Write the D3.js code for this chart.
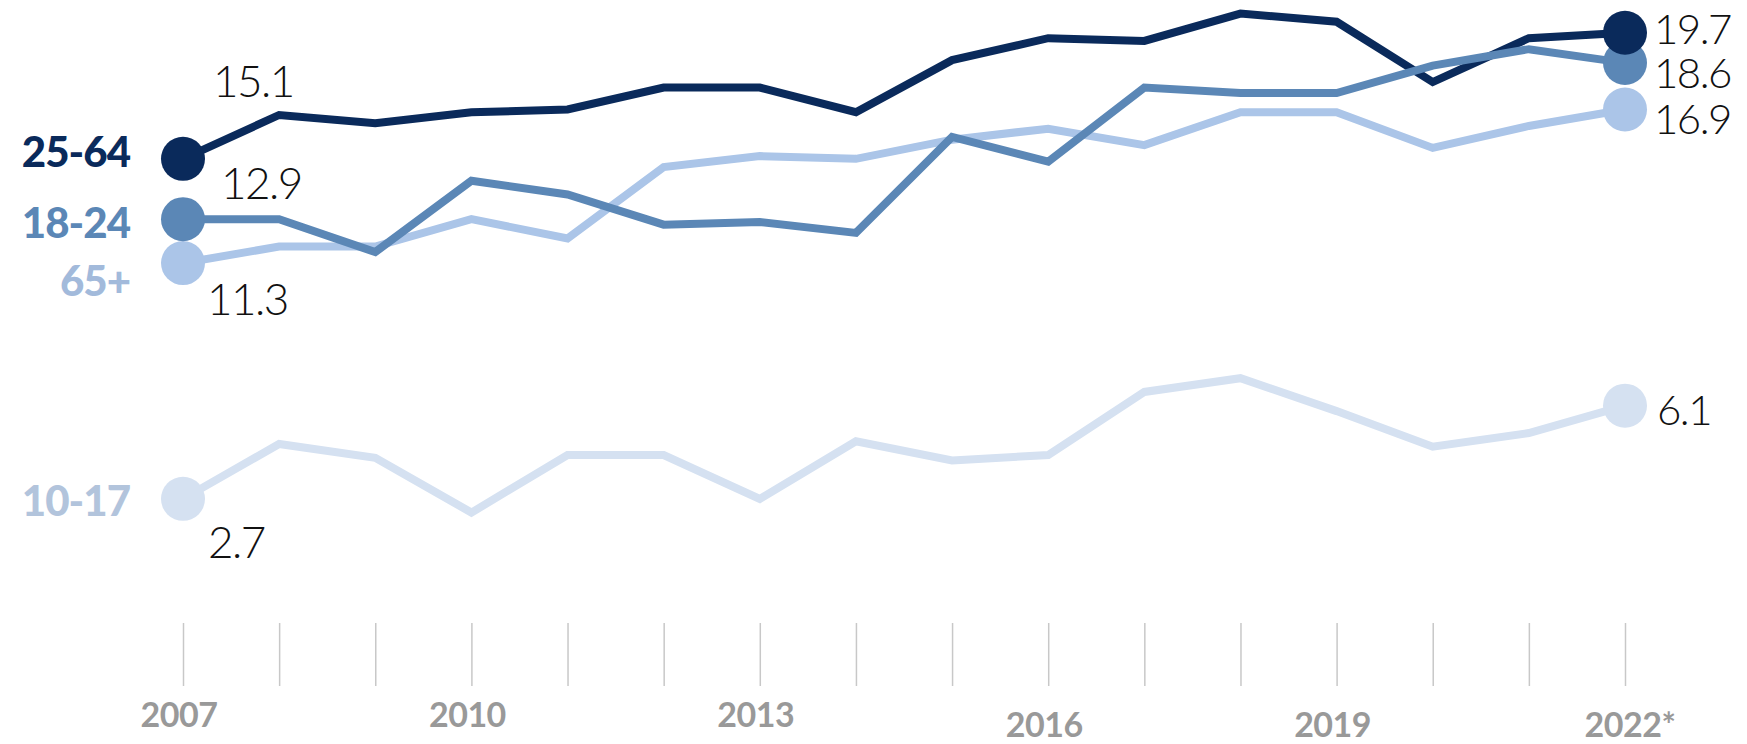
<!DOCTYPE html>
<html>
<head>
<meta charset="utf-8">
<script src="https://cdn.jsdelivr.net/npm/d3@7"></script>
<style>
  html, body { margin: 0; padding: 0; background: #ffffff; }
  svg { display: block; }
</style>
</head>
<body>
<svg id="chart" width="1747" height="744"></svg>
<script>
// ---- data ----
const years = [2007, 2008, 2009, 2010, 2011, 2012, 2013, 2014, 2015, 2016, 2017, 2018, 2019, 2020, 2021, 2022];
const tickYears = [2007, 2010, 2013, 2016, 2019, 2022];
const tickLabels = ["2007", "2010", "2013", "2016", "2019", "2022*"];
const seriesNames = ["10-17", "65+", "25-64", "18-24"];
const values_10_17 = [2.7, 4.7, 4.2, 2.2, 4.3, 4.3, 2.7, 4.8, 4.1, 4.3, 6.6, 7.1, 5.9, 4.6, 5.1, 6.1];
const values_65 = [11.3, 11.9, 11.9, 12.9, 12.2, 14.8, 15.2, 15.1, 15.8, 16.2, 15.6, 16.8, 16.8, 15.5, 16.3, 16.9];
const values_25_64 = [15.1, 16.7, 16.4, 16.8, 16.9, 17.7, 17.7, 16.8, 18.7, 19.5, 19.4, 20.4, 20.1, 17.9, 19.5, 19.7];
const values_18_24 = [12.9, 12.9, 11.7, 14.3, 13.8, 12.7, 12.8, 12.4, 15.9, 15.0, 17.7, 17.5, 17.5, 18.5, 19.1, 18.6];

// ---- styles / layout ----
const lineColors = { "10-17": "#d5e1f1", "65+": "#abc5e8", "25-64": "#0a2a5b", "18-24": "#5b87b6" };
const labelColors = { "10-17": "#b2c4dc", "65+": "#a2badb", "25-64": "#0a2a5b", "18-24": "#5b87b6" };
const seriesValues = { "10-17": values_10_17, "65+": values_65, "25-64": values_25_64, "18-24": values_18_24 };

const svg = d3.select("#chart");
svg.append("rect").attr("width", 1747).attr("height", 744).attr("fill", "#ffffff");

const x = d3.scaleLinear().domain([2007, 2022]).range([183, 1625]);
const y = d3.scaleLinear().domain([0, 20]).range([572.9, 24.5]);

const numFont = "Lato, 'Open Sans', sans-serif";

// axis ticks
const axis = d3.axisBottom(x)
  .tickValues(years)
  .tickSize(63)
  .tickFormat("");
const axG = svg.append("g").attr("transform", "translate(0,623)").call(axis);
axG.select(".domain").remove();
axG.selectAll(".tick line").attr("stroke", "#c8c8c8").attr("stroke-width", 1.5);

// axis labels
svg.append("g").selectAll("text")
  .data(tickYears)
  .join("text")
  .attr("x", (d, i) => x(d) + (i === 5 ? 5 : -4))
  .attr("y", (d, i) => i < 3 ? 727 : 737)
  .attr("text-anchor", "middle")
  .attr("font-family", numFont)
  .attr("font-weight", 700)
  .attr("font-size", 34)
  .attr("letter-spacing", -0.5)
  .attr("fill", "#999999")
  .text((d, i) => tickLabels[i]);

// lines
const line = d3.line().x((d, i) => x(years[i])).y(d => y(d));
const lineOrder = ["10-17", "65+", "25-64", "18-24"];
svg.append("g").selectAll("path")
  .data(lineOrder)
  .join("path")
  .attr("d", k => line(seriesValues[k]))
  .attr("fill", "none")
  .attr("stroke", k => lineColors[k])
  .attr("stroke-width", 8)
  .attr("stroke-linejoin", "miter");

// end dots
const dotOrder = ["10-17", "65+", "18-24", "25-64"];
const dots = [];
dotOrder.forEach(k => {
  const v = seriesValues[k];
  dots.push({ k, yr: years[0], v: v[0] });
  dots.push({ k, yr: years[years.length - 1], v: v[v.length - 1] });
});
svg.append("g").selectAll("circle")
  .data(dots)
  .join("circle")
  .attr("cx", d => x(d.yr))
  .attr("cy", d => y(d.v))
  .attr("r", 22)
  .attr("fill", d => lineColors[d.k]);

// series labels on the left
const leftLabelOffset = { "25-64": 8, "18-24": 19, "65+": 33, "10-17": 17 };
svg.append("g").selectAll("text")
  .data(["25-64", "18-24", "65+", "10-17"])
  .join("text")
  .attr("x", 130)
  .attr("y", k => y(seriesValues[k][0]) + leftLabelOffset[k])
  .attr("text-anchor", "end")
  .attr("font-family", numFont)
  .attr("font-weight", 900)
  .attr("font-size", 42)
  .attr("letter-spacing", -1)
  .attr("fill", k => labelColors[k])
  .text(k => k);

// value labels at start
const startLabelOffset = { "25-64": [30, -62], "18-24": [38, -20], "65+": [24, 52], "10-17": [25, 59] };
svg.append("g").selectAll("text")
  .data(["25-64", "18-24", "65+", "10-17"])
  .join("text")
  .attr("x", k => x(years[0]) + startLabelOffset[k][0])
  .attr("y", k => y(seriesValues[k][0]) + startLabelOffset[k][1])
  .attr("font-family", numFont)
  .attr("font-weight", 300)
  .attr("font-size", 44)
  .attr("letter-spacing", -1.5)
  .attr("fill", "#111111")
  .text(k => d3.format(".1f")(seriesValues[k][0]));

// value labels at end
const endLabelOffset = { "25-64": 11, "18-24": 25, "65+": 24, "10-17": 19 };
svg.append("g").selectAll("text")
  .data(["25-64", "18-24", "65+", "10-17"])
  .join("text")
  .attr("x", k => x(years[years.length - 1]) + (k === "10-17" ? 32 : 29))
  .attr("y", k => y(seriesValues[k][seriesValues[k].length - 1]) + endLabelOffset[k])
  .attr("font-family", numFont)
  .attr("font-weight", 300)
  .attr("font-size", 42)
  .attr("letter-spacing", -1.5)
  .attr("fill", "#111111")
  .text(k => d3.format(".1f")(seriesValues[k][seriesValues[k].length - 1]));
</script>
</body>
</html>
